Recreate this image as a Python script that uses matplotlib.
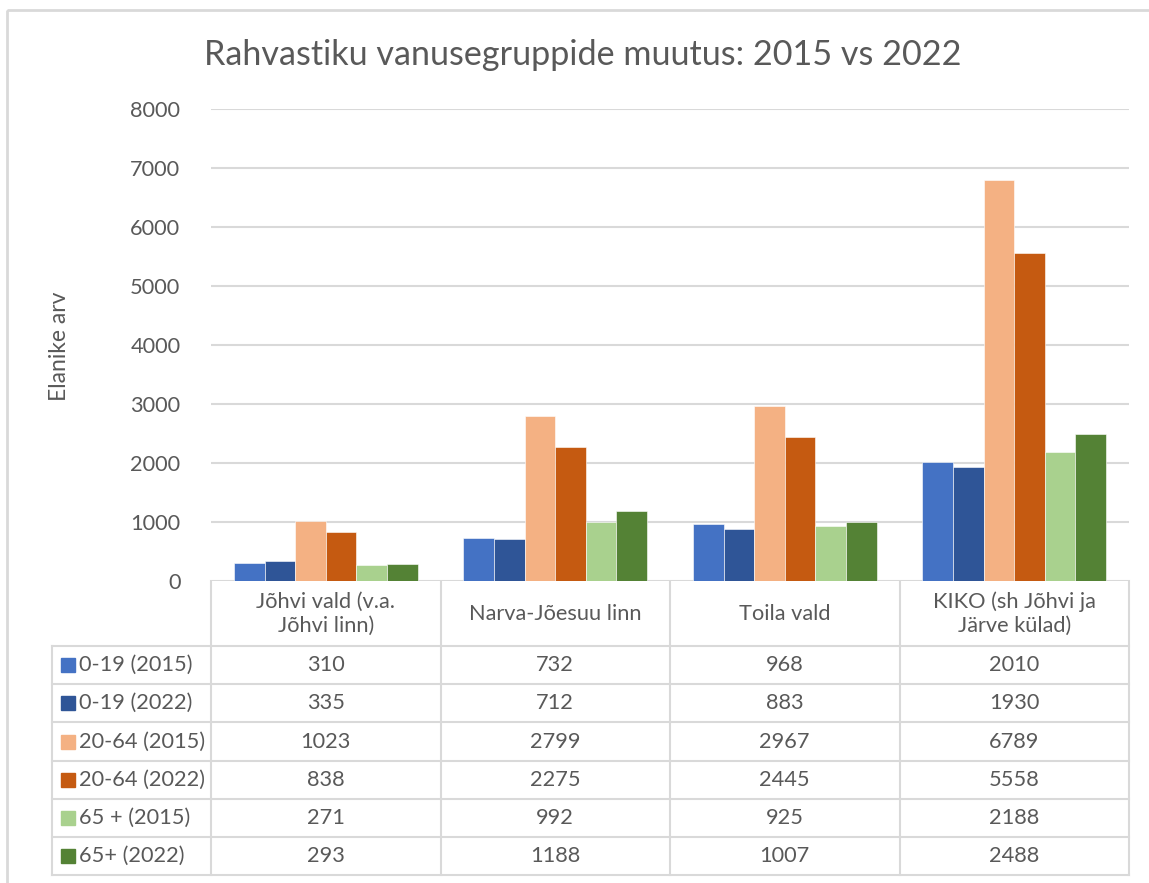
import matplotlib
matplotlib.use("Agg")
import matplotlib.pyplot as plt
from matplotlib.patches import Rectangle
import numpy as np

# data
categories = ["Jõhvi vald (v.a.\nJõhvi linn)", "Narva-Jõesuu linn", "Toila vald",
              "KIKO (sh Jõhvi ja\nJärve külad)"]
series_names = ["0-19 (2015)", "0-19 (2022)", "20-64 (2015)", "20-64 (2022)",
                "65 + (2015)", "65+ (2022)"]
age_0_19_2015 = [310, 732, 968, 2010]
age_0_19_2022 = [335, 712, 883, 1930]
age_20_64_2015 = [1023, 2799, 2967, 6789]
age_20_64_2022 = [838, 2275, 2445, 5558]
age_65_2015 = [271, 992, 925, 2188]
age_65_2022 = [293, 1188, 1007, 2488]
series_values = [age_0_19_2015, age_0_19_2022, age_20_64_2015, age_20_64_2022,
                 age_65_2015, age_65_2022]
colors = ["#4472C4", "#2F5597", "#F4B183", "#C55A11", "#A9D18E", "#548235"]
yticks = [0, 1000, 2000, 3000, 4000, 5000, 6000, 7000, 8000]

title = "Rahvastiku vanusegruppide muutus: 2015 vs 2022"
ylabel = "Elanike arv"

plt.rcParams["font.family"] = ["Lato", "DejaVu Sans"]
txt = "#595959"
grid = "#D9D9D9"
fs = 15.7

W, H = 1149, 883
fig = plt.figure(figsize=(W / 100, H / 100), dpi=100)

# pixel layout of the plot area
x0, x1 = 211, 1129
y_top, y_zero = 109, 581
ax = fig.add_axes([x0 / W, 1 - y_zero / H, (x1 - x0) / W, (y_zero - y_top) / H])

n = len(series_names)
bw = 0.8 / n
x = np.arange(len(categories))
for k in range(n):
    ax.bar(x - 0.4 + bw * (k + 0.5), series_values[k], width=bw, color=colors[k],
           edgecolor="white", linewidth=0.4, zorder=3)

ax.set_xlim(-0.5, len(categories) - 0.5)
ax.set_ylim(0, 8000)
ax.set_yticks(yticks)
ax.set_yticklabels([str(t) for t in yticks], fontsize=fs, color=txt)
ax.tick_params(axis="y", length=0, pad=22)
ax.set_xticks([])
ax.grid(axis="y", color=grid, linewidth=1.5, zorder=0)
for s in ax.spines.values():
    s.set_visible(False)

# overlay axes in pixel coordinates for frame, title, table
ov = fig.add_axes([0, 0, 1, 1], zorder=-1)
ov.set_xlim(0, W)
ov.set_ylim(H, 0)
ov.axis("off")
ov.add_patch(Rectangle((7, 10), W + 20, H + 20, fill=False, edgecolor=grid, linewidth=2))

fig.text(583 / W, 1 - 55 / H, title, ha="center", va="center", fontsize=24.6, color=txt)
fig.text(60 / W, 1 - 346 / H, ylabel, ha="center", va="center", rotation=90,
         fontsize=16.5, color=txt)

# data table below the plot
col_edges = np.linspace(x0, x1, len(categories) + 1)
head_top, head_bot = 581, 646
row_h = 38.2
tab_left = 52
row_edges = [head_bot + row_h * i for i in range(n + 1)]
lw = 1.5
ov.plot([x0, x0], [head_top, row_edges[-1]], color=grid, lw=lw)
for cx in col_edges[1:]:
    ov.plot([cx, cx], [head_top, row_edges[-1]], color=grid, lw=lw)
ov.plot([tab_left, tab_left], [head_bot, row_edges[-1]], color=grid, lw=lw)
for ry in row_edges:
    ov.plot([tab_left, x1], [ry, ry], color=grid, lw=lw)

for j, cat in enumerate(categories):
    cx = (col_edges[j] + col_edges[j + 1]) / 2
    ov.text(cx, (head_top + head_bot) / 2, cat, ha="center", va="center", fontsize=fs,
            color=txt, linespacing=1.25)
for k in range(n):
    cy = (row_edges[k] + row_edges[k + 1]) / 2
    ov.add_patch(Rectangle((61, cy - 7), 14, 14, color=colors[k]))
    ov.text(79, cy, series_names[k], ha="left", va="center", fontsize=fs, color=txt)
    for j in range(len(categories)):
        cx = (col_edges[j] + col_edges[j + 1]) / 2
        ov.text(cx, cy, str(series_values[k][j]), ha="center", va="center",
                fontsize=fs, color=txt)

fig.savefig("out.png", dpi=100, facecolor="white")
